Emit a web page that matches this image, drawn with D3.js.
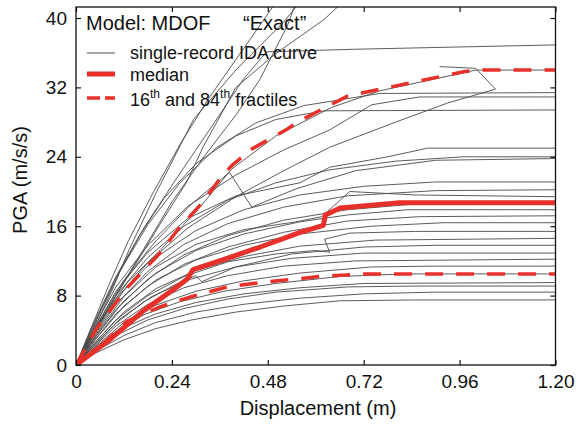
<!DOCTYPE html>
<html>
<head>
<meta charset="utf-8">
<script src="https://cdn.jsdelivr.net/npm/d3@7"></script>
<style>
    body { margin: 0; background: #fff; }
    text { font-family: 'Liberation Sans', Arial, sans-serif; fill: #111; }
</style>
</head>
<body>
<div id="chart"></div>
<script>
'use strict';

// tick values / labels
var xTicks = [0, 0.24, 0.48, 0.72, 0.96, 1.20];
var xTickLabels = ['0', '0.24', '0.48', '0.72', '0.96', '1.20'];
var yTicks = [0, 8, 16, 24, 32, 40];

// single-record IDA curves, [displacement (m), PGA (m/s/s)]
var idaCurves = [
    [[0,0],[0.05,1.4],[0.12,2.9],[0.2,4.2],[0.29,5.2],[0.4,6.1],[0.52,6.8],[0.66,7.4],[0.85,7.5],[1.2,7.5]],
    [[0,0],[0.05,1.6],[0.12,3.4],[0.2,4.9],[0.3,6.1],[0.42,7.0],[0.56,7.7],[0.72,8.2],[0.9,8.4],[1.2,8.4]],
    [[0,0],[0.04,1.5],[0.1,3.4],[0.18,5.2],[0.27,6.5],[0.38,7.6],[0.5,8.4],[0.68,9.0],[0.85,9.1],[1.2,9.1]],
    [[0,0],[0.05,2.0],[0.12,4.3],[0.2,5.9],[0.3,7.2],[0.42,8.2],[0.56,8.9],[0.72,9.4],[1.2,9.5]],
    [[0,0],[0.04,1.7],[0.1,3.9],[0.17,5.8],[0.26,7.3],[0.37,8.5],[0.5,9.4],[0.66,10.2],[0.82,10.5],[1.2,10.5]],
    [[0,0],[0.05,2.2],[0.12,4.9],[0.2,6.9],[0.3,8.5],[0.42,9.7],[0.56,10.6],[0.74,11.3],[0.9,11.4],[1.2,11.4]],
    [[0,0],[0.04,1.9],[0.1,4.5],[0.18,7.0],[0.27,8.9],[0.38,10.3],[0.52,11.4],[0.7,12.0],[1.2,12.2]],
    [[0,0],[0.05,2.5],[0.11,5.3],[0.19,7.9],[0.28,9.8],[0.4,11.3],[0.54,12.3],[0.72,12.9],[1.2,12.9]],
    [[0,0],[0.04,2.0],[0.1,4.8],[0.17,7.3],[0.25,9.3],[0.3,10.3],[0.315,9.6],[0.4,11.3],[0.54,12.8],[0.72,13.6],[0.9,13.8],[1.2,13.8]],
    [[0,0],[0.05,2.7],[0.12,6.1],[0.2,8.8],[0.3,10.9],[0.42,12.5],[0.56,13.7],[0.75,14.4],[1.2,14.6]],
    [[0,0],[0.04,2.2],[0.1,5.2],[0.18,8.0],[0.27,10.2],[0.38,11.9],[0.5,12.8],[0.6,13.2],[0.635,13.0],[0.622,14.5],[0.685,15.2],[0.85,15.4],[1.2,15.4]],
    [[0,0],[0.05,3.0],[0.12,6.8],[0.2,9.8],[0.3,12.1],[0.42,13.8],[0.56,15.1],[0.74,16.0],[0.92,16.4],[1.2,16.4]],
    [[0,0],[0.04,2.5],[0.1,5.9],[0.18,9.1],[0.27,11.6],[0.38,13.6],[0.52,15.3],[0.68,16.6],[0.86,17.1],[1.2,17.2]],
    [[0,0],[0.05,3.3],[0.12,7.4],[0.2,10.6],[0.3,13.2],[0.42,15.1],[0.56,16.5],[0.68,17.3],[0.83,17.9],[1.2,17.9]],
    [[0,0],[0.04,2.7],[0.1,6.4],[0.18,9.9],[0.27,12.7],[0.38,14.9],[0.52,16.7],[0.68,17.9],[0.86,18.6],[1.2,18.7]],
    [[0,0],[0.05,3.5],[0.12,7.9],[0.2,11.3],[0.3,13.9],[0.42,15.6],[0.55,16.5],[0.615,17.1],[0.685,20.0],[0.85,19.6],[1.2,19.4]],
    [[0,0],[0.04,3.0],[0.1,7.0],[0.18,10.8],[0.27,13.9],[0.38,16.3],[0.52,18.2],[0.68,19.5],[0.9,20.1],[1.2,20.2]],
    [[0,0],[0.05,3.9],[0.12,8.6],[0.2,12.4],[0.3,15.5],[0.42,17.9],[0.56,19.6],[0.72,20.6],[0.9,21.1],[1.2,21.1]],
    [[0,0],[0.04,3.4],[0.1,8.0],[0.18,12.4],[0.27,16.0],[0.38,19.0],[0.5,21.0],[0.635,22.5],[0.8,23.5],[0.97,24.0],[1.2,24.0]],
    [[0,0],[0.05,4.4],[0.12,9.8],[0.2,14.3],[0.29,18.6],[0.384,22.2],[0.44,18.2],[0.55,20.3],[0.7,22.4],[0.9,23.6],[1.2,23.8]],
    [[0,0],[0.04,3.6],[0.1,8.5],[0.18,13.0],[0.28,16.9],[0.4,19.5],[0.56,21.0],[0.635,22.8],[0.78,24.0],[0.88,25.0],[1.2,25.0]],
    [[0,0],[0.05,5.2],[0.1,10.0],[0.16,15.0],[0.22,19.2],[0.3,23.2],[0.4,26.4],[0.5,28.3],[0.62,29.3],[1.2,29.4]],
    [[0,0],[0.04,3.9],[0.1,9.0],[0.18,13.8],[0.28,18.3],[0.4,21.9],[0.52,24.8],[0.635,27.1],[0.74,30.0],[0.86,30.9],[1.2,30.9]],
    [[0,0],[0.05,5.0],[0.11,10.8],[0.18,16.2],[0.26,21.0],[0.35,25.0],[0.45,27.9],[0.57,29.9],[0.76,31.3],[1.2,31.4]],
    [[0,0],[0.05,4.4],[0.13,9.6],[0.21,13.2],[0.31,18.2],[0.39,22.6],[0.5,26.4],[0.64,29.7],[0.76,31.6],[0.96,33.6],[1.0,34.0],[1.2,34.0]],
    [[0,0],[0.04,3.3],[0.1,7.6],[0.18,11.8],[0.28,15.8],[0.4,19.4],[0.52,22.4],[0.635,25.1],[0.8,28.0],[0.93,30.2],[1.05,31.8],[1.0,34.2],[0.91,34.4]],
    [[0,0],[0.04,4.4],[0.1,10.2],[0.17,15.8],[0.25,21.4],[0.334,27.1],[0.42,33.0],[0.477,36.1],[0.7,36.4],[1.2,36.9]],
    [[0,0],[0.03,3.4],[0.084,9.4],[0.13,14.2],[0.19,19.6],[0.26,25.4],[0.33,30.6],[0.4,35.2],[0.47,39.8],[0.5,41.8]],
    [[0,0],[0.05,4.6],[0.09,8.6],[0.133,13.3],[0.2,19.8],[0.294,28.3],[0.4,34.0],[0.517,39.4],[0.56,41.8]],
    [[0,0],[0.05,4.0],[0.1,8.0],[0.17,13.2],[0.218,16.8],[0.276,21.0],[0.319,25.2],[0.4,32.0],[0.5,35.9],[0.62,39.8],[0.66,41.5]],
    [[0,0],[0.05,4.2],[0.11,8.8],[0.17,13.4],[0.24,18.8],[0.32,24.0],[0.4,28.8],[0.46,32.9],[0.53,39.2],[0.55,41.8]]
];

var median = [[0,0],[0.084,2.9],[0.17,6.3],[0.25,8.9],[0.278,9.9],[0.293,11.0],[0.378,12.3],[0.461,13.6],
    [0.544,15.0],[0.561,15.3],[0.619,16.1],[0.624,17.3],[0.661,18.1],[0.81,18.7],[1.2,18.7]];
var fractile16 = [[0,0],[0.06,2.1],[0.126,5.0],[0.21,6.7],[0.29,7.9],[0.378,9.0],[0.461,9.5],[0.61,10.2],[0.728,10.5],[1.2,10.5]];
var fractile84 = [[0,0],[0.05,4.1],[0.126,8.8],[0.21,12.9],[0.253,15.5],[0.31,18.4],[0.366,21.8],[0.39,23.0],[0.44,24.9],
    [0.529,27.2],[0.554,28.0],[0.679,31.0],[0.762,31.8],[0.97,33.8],[1.0,34.0],[1.2,34.0]];

var width = 579;
var height = 428;
var plot = {left: 76, right: 555.5, top: 7, bottom: 365};
var red = '#e8302a';

var svg = d3.select('#chart').append('svg')
    .attr('width', width)
    .attr('height', height)
    .style('background', '#fff');

var x = d3.scaleLinear().domain([0, 1.2]).range([plot.left, plot.right]);
var y = d3.scaleLinear().domain([0, 40]).range([plot.bottom, 18]);

svg.append('clipPath').attr('id', 'plotClip')
    .append('rect')
    .attr('x', plot.left).attr('y', plot.top)
    .attr('width', plot.right - plot.left).attr('height', plot.bottom - plot.top);

var line = d3.line()
    .x(function(d) { return x(d[0]); })
    .y(function(d) { return y(d[1]); });

var curves = svg.append('g').attr('clip-path', 'url(#plotClip)');

curves.selectAll('path.ida')
    .data(idaCurves)
    .enter().append('path')
    .attr('class', 'ida')
    .attr('d', line)
    .style('fill', 'none')
    .style('stroke', '#4a4a4a')
    .style('stroke-width', 0.9);

curves.append('path')
    .attr('d', line(fractile16))
    .style('fill', 'none').style('stroke', red)
    .style('stroke-width', 3.5).style('stroke-dasharray', '18,13');

curves.append('path')
    .attr('d', line(fractile84))
    .style('fill', 'none').style('stroke', red)
    .style('stroke-width', 3.5).style('stroke-dasharray', '18,13');

curves.append('path')
    .attr('d', line(median))
    .style('fill', 'none').style('stroke', red)
    .style('stroke-width', 5).style('stroke-linejoin', 'round');

// axes, ticks pointing inward on all four sides
var styleAxis = function(g) {
    g.select('.domain').remove();
    g.selectAll('.tick line').style('stroke', '#111').style('stroke-width', 1.2);
    g.selectAll('.tick text').style('font-size', '19px').style('fill', '#111');
};

svg.append('g')
    .attr('transform', 'translate(0,' + plot.bottom + ')')
    .call(d3.axisBottom(x).tickValues(xTicks).tickSize(-5).tickPadding(10)
        .tickFormat(function(d, i) { return xTickLabels[i]; }))
    .call(styleAxis);

svg.append('g')
    .attr('transform', 'translate(0,' + plot.top + ')')
    .call(d3.axisTop(x).tickValues(xTicks).tickSize(-5).tickFormat(''))
    .call(styleAxis);

svg.append('g')
    .attr('transform', 'translate(' + plot.left + ',0)')
    .call(d3.axisLeft(y).tickValues(yTicks).tickSize(-5).tickPadding(9))
    .call(styleAxis);

svg.append('g')
    .attr('transform', 'translate(' + plot.right + ',0)')
    .call(d3.axisRight(y).tickValues(yTicks).tickSize(-5).tickFormat(''))
    .call(styleAxis);

svg.append('rect')
    .attr('x', plot.left).attr('y', plot.top)
    .attr('width', plot.right - plot.left).attr('height', plot.bottom - plot.top)
    .style('fill', 'none').style('stroke', '#111').style('stroke-width', 1.3);

// axis titles
svg.append('text')
    .attr('x', 318).attr('y', 415)
    .attr('text-anchor', 'middle')
    .style('font-size', '20px')
    .text('Displacement (m)');

svg.append('text')
    .attr('transform', 'translate(27,180) rotate(-90)')
    .attr('text-anchor', 'middle')
    .style('font-size', '20px')
    .text('PGA (m/s/s)');

// legend
var legend = svg.append('g');

legend.append('text')
    .attr('x', 86).attr('y', 30)
    .style('font-size', '20px')
    .text('Model: MDOF');

legend.append('text')
    .attr('x', 243).attr('y', 30)
    .style('font-size', '20px')
    .text('\u201CExact\u201D');

legend.append('line')
    .attr('x1', 87).attr('x2', 115).attr('y1', 53).attr('y2', 53)
    .style('stroke', '#4a4a4a').style('stroke-width', 1);

legend.append('line')
    .attr('x1', 87).attr('x2', 115).attr('y1', 74).attr('y2', 74)
    .style('stroke', red).style('stroke-width', 5);

legend.append('line')
    .attr('x1', 87).attr('x2', 115).attr('y1', 98).attr('y2', 98)
    .style('stroke', red).style('stroke-width', 3.5).style('stroke-dasharray', '13,5');

legend.append('text')
    .attr('x', 130).attr('y', 59)
    .style('font-size', '18px')
    .text('single-record IDA curve');

legend.append('text')
    .attr('x', 130).attr('y', 81)
    .style('font-size', '18px')
    .text('median');

var frac = legend.append('text')
    .attr('x', 130).attr('y', 106)
    .style('font-size', '18px');
frac.append('tspan').text('16');
frac.append('tspan').attr('dy', -8).style('font-size', '12px').text('th');
frac.append('tspan').attr('dy', 8).text(' and 84');
frac.append('tspan').attr('dy', -8).style('font-size', '12px').text('th');
frac.append('tspan').attr('dy', 8).text(' fractiles');
</script>
</body>
</html>
